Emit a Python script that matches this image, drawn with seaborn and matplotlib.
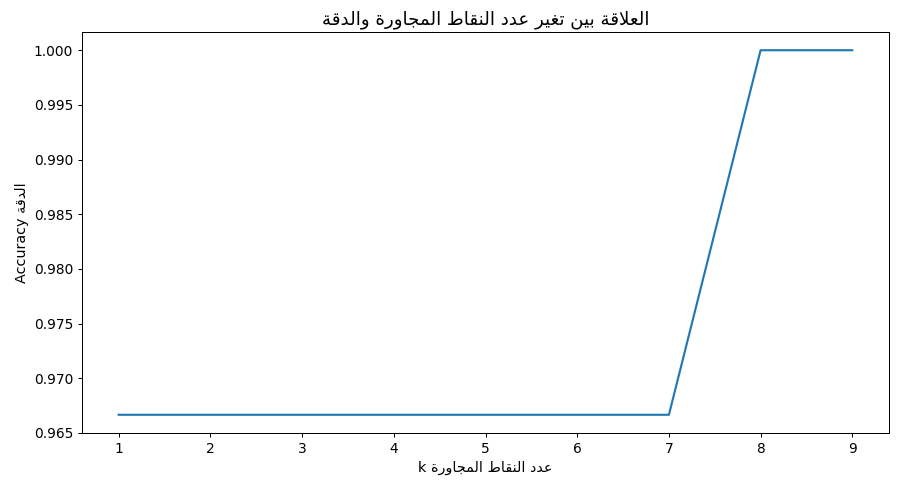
import numpy as np
import pandas as pd
import matplotlib
matplotlib.use("Agg")
import matplotlib.pyplot as plt
import seaborn as sns

k_values = [1, 2, 3, 4, 5, 6, 7, 8, 9]
accuracy = [0.9666666666666667, 0.9666666666666667, 0.9666666666666667,
            0.9666666666666667, 0.9666666666666667, 0.9666666666666667,
            0.9666666666666667, 1.0, 1.0]

title_txt = "العلاقة بين تغير عدد النقاط المجاورة والدقة"
xlabel_txt = "عدد النقاط المجاورة k"
ylabel_txt = "الدقة Accuracy"

# minimal arabic shaping (isolated, final, initial, medial)
FORMS = {
    'ا': (0xFE8D, 0xFE8E, None, None),
    'ب': (0xFE8F, 0xFE90, 0xFE91, 0xFE92),
    'ة': (0xFE93, 0xFE94, None, None),
    'ت': (0xFE95, 0xFE96, 0xFE97, 0xFE98),
    'ج': (0xFE9D, 0xFE9E, 0xFE9F, 0xFEA0),
    'د': (0xFEA9, 0xFEAA, None, None),
    'ر': (0xFEAD, 0xFEAE, None, None),
    'ط': (0xFEC1, 0xFEC2, 0xFEC3, 0xFEC4),
    'ع': (0xFEC9, 0xFECA, 0xFECB, 0xFECC),
    'غ': (0xFECD, 0xFECE, 0xFECF, 0xFED0),
    'ق': (0xFED5, 0xFED6, 0xFED7, 0xFED8),
    'ك': (0xFED9, 0xFEDA, 0xFEDB, 0xFEDC),
    'ل': (0xFEDD, 0xFEDE, 0xFEDF, 0xFEE0),
    'م': (0xFEE1, 0xFEE2, 0xFEE3, 0xFEE4),
    'ن': (0xFEE5, 0xFEE6, 0xFEE7, 0xFEE8),
    'و': (0xFEED, 0xFEEE, None, None),
    'ي': (0xFEF1, 0xFEF2, 0xFEF3, 0xFEF4),
    'لا': (0xFEFB, 0xFEFC, None, None),
}


def shape_word(word):
    # merge lam-alef
    letters = []
    i = 0
    while i < len(word):
        if word[i] == 'ل' and i + 1 < len(word) and word[i + 1] == 'ا':
            letters.append('لا')
            i += 2
        else:
            letters.append(word[i])
            i += 1
    out = []
    for i, ch in enumerate(letters):
        f = FORMS[ch]
        prev_joins = i > 0 and FORMS[letters[i - 1]][2] is not None
        can_next = f[2] is not None and i + 1 < len(letters)
        if prev_joins and can_next:
            cp = f[3]
        elif prev_joins:
            cp = f[1]
        elif can_next:
            cp = f[2]
        else:
            cp = f[0]
        out.append(chr(cp))
    return ''.join(out)


def rtl(text):
    vis = []
    for t in reversed(text.split(' ')):
        if t and t[0] in FORMS:
            vis.append(shape_word(t)[::-1])
        else:
            vis.append(t)
    return ' '.join(vis)


df = pd.DataFrame({"k": k_values, "accuracy": accuracy})

plt.rcParams['font.size'] = 11
fig, ax = plt.subplots(figsize=(10, 488 / 90), dpi=90)
sns.lineplot(data=df, x="k", y="accuracy", ax=ax, linewidth=1.7)
ax.set_title(rtl(title_txt), fontsize=14.5)
ax.set_xlabel(rtl(xlabel_txt), fontsize=11.5)
ax.set_ylabel(rtl(ylabel_txt), fontsize=11.5)
fig.subplots_adjust(left=82 / 900, right=889 / 900, top=1 - 32 / 488, bottom=1 - 433 / 488)
plt.savefig("out.png", dpi=90)
